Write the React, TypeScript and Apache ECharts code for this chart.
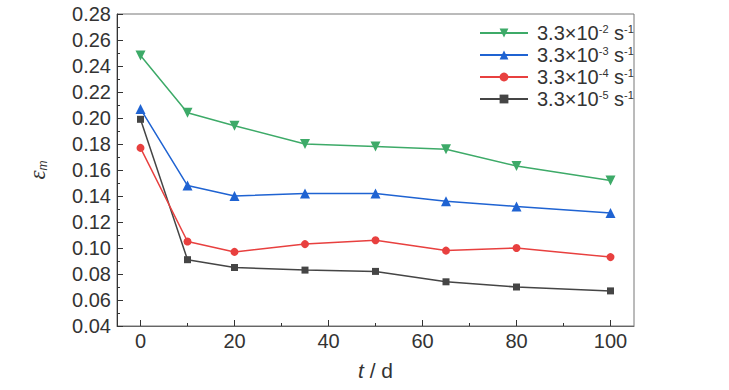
import React, { useEffect, useRef } from 'react';
import * as echarts from 'echarts';

const days = [0, 10, 20, 35, 50, 65, 80, 100];
const exponents = ['-2', '-3', '-4', '-5'];
const seriesNames = exponents.map((e) => `3.3×10${e} s-1`);
const strainE2 = [0.248, 0.204, 0.194, 0.180, 0.178, 0.176, 0.163, 0.152];
const strainE3 = [0.207, 0.148, 0.140, 0.142, 0.142, 0.136, 0.132, 0.127];
const strainE4 = [0.177, 0.105, 0.097, 0.103, 0.106, 0.098, 0.100, 0.093];
const strainE5 = [0.199, 0.091, 0.085, 0.083, 0.082, 0.074, 0.070, 0.067];
const xTickLabels = [0, 20, 40, 60, 80, 100];
const xMinorTicks = [10, 30, 50, 70, 90];

const colors = ['#3daa68', '#1f63d2', '#e8403f', '#454545'];
const symbols = ['triangle', 'triangle', 'circle', 'rect'];
const symbolRotates = [180, 0, 0, 0];
const symbolSizes = [10, 10, 8, 7];
const seriesValues = [strainE2, strainE3, strainE4, strainE5];

const FONT = 'Liberation Sans, Arial, sans-serif';

export default function App() {
  const ref = useRef<HTMLDivElement>(null);
  useEffect(() => {
    if (!ref.current) return;
    const chart = echarts.init(ref.current, undefined, { renderer: 'svg' });
    const series = seriesValues.map((vals, i) => ({
      name: seriesNames[i],
      type: 'line',
      xAxisIndex: 0,
      data: days.map((d, j) => [d, vals[j]]),
      symbol: symbols[i],
      symbolRotate: symbolRotates[i],
      symbolSize: symbolSizes[i],
      lineStyle: { color: colors[i], width: 1.5 },
      itemStyle: { color: colors[i] },
      z: 10 - i,
    }));
    chart.setOption({
      animation: false,
      textStyle: { fontFamily: FONT },
      grid: {
        left: 117,
        right: 95,
        top: 14,
        bottom: 64,
        show: true,
        borderColor: '#777',
        borderWidth: 1,
      },
      legend: {
        orient: 'vertical',
        left: 474,
        top: 18,
        itemWidth: 48,
        itemHeight: 11,
        itemGap: 2,
        data: seriesNames,
        formatter: (name: string) => {
          const i = seriesNames.indexOf(name);
          return `3.3×10{s|${exponents[i]}} s{s|-1}`;
        },
        textStyle: {
          color: '#333',
          fontSize: 20,
          fontFamily: FONT,
          lineHeight: 20,
          padding: [0, 0, 0, 4],
          rich: {
            s: { fontSize: 11, fontFamily: FONT, color: '#333', verticalAlign: 'top', lineHeight: 20 },
          },
        },
      },
      xAxis: [
        {
          type: 'value',
          min: -5,
          max: 105,
          position: 'bottom',
          name: '{i|t}{n| / d}',
          nameLocation: 'middle',
          nameGap: 34,
          nameTextStyle: {
            rich: {
              i: { fontSize: 21, fontStyle: 'italic', color: '#333', fontFamily: FONT },
              n: { fontSize: 21, color: '#333', fontFamily: FONT },
            },
          },
          splitLine: { show: false },
          axisLine: { show: true, onZero: false, lineStyle: { color: '#666' } },
          axisTick: {
            show: true,
            inside: true,
            length: 6,
            customValues: xTickLabels,
            lineStyle: { color: '#333' },
          },
          axisLabel: {
            customValues: xTickLabels,
            fontSize: 20,
            color: '#333',
            margin: 5,
            fontFamily: FONT,
          },
        },
        {
          type: 'value',
          min: -5,
          max: 105,
          position: 'bottom',
          splitLine: { show: false },
          axisLine: { show: false, onZero: false },
          axisTick: {
            show: true,
            inside: true,
            length: 3,
            customValues: xMinorTicks,
            lineStyle: { color: '#333' },
          },
          axisLabel: { show: false },
        },
      ],
      yAxis: {
        type: 'value',
        min: 0.04,
        max: 0.28,
        interval: 0.02,
        name: '{e|ε}{m|m}',
        nameLocation: 'middle',
        nameRotate: 90,
        nameGap: 68,
        nameTextStyle: {
          rich: {
            e: { fontSize: 23, fontStyle: 'italic', color: '#333', fontFamily: 'Liberation Serif, serif', lineHeight: 24 },
            m: { fontSize: 12, fontStyle: 'italic', color: '#333', fontFamily: FONT, verticalAlign: 'bottom', lineHeight: 24 },
          },
        },
        splitLine: { show: false },
        axisLine: { show: true, onZero: false, lineStyle: { color: '#333' } },
        axisTick: { show: true, inside: true, length: 6, lineStyle: { color: '#333' } },
        minorTick: { show: true, splitNumber: 2, length: 3, lineStyle: { color: '#333' } },
        minorSplitLine: { show: false },
        axisLabel: {
          fontSize: 20,
          color: '#333',
          margin: 6,
          fontFamily: FONT,
          formatter: (v: number) => v.toFixed(2),
        },
      },
      series,
    });
    return () => chart.dispose();
  }, []);
  return (
    <div
      ref={ref}
      style={{ position: 'fixed', left: 0, top: 0, width: 729, height: 390, background: '#fff' }}
    />
  );
}
